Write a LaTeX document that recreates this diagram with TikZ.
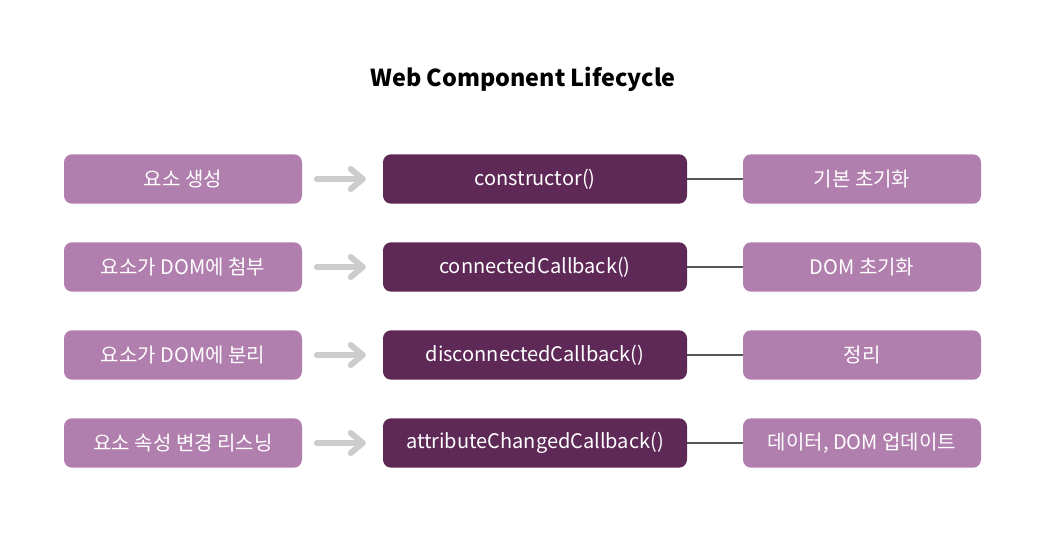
\documentclass[tikz,border=0pt]{standalone}
\usepackage{fontspec}
\setmainfont{Noto Sans CJK KR}
\definecolor{evtfill}{HTML}{B07FAE}
\definecolor{cbfill}{HTML}{5E2857}
\definecolor{arrowgray}{HTML}{CCCCCC}
\definecolor{linkgray}{HTML}{555555}
\begin{document}
\begin{tikzpicture}[x=0.75pt, y=-0.75pt,
  evt node/.style={rectangle, rounded corners=6pt, fill=evtfill, text=white, minimum width=178.5pt, minimum height=37pt, inner sep=0pt, font=\fontsize{15}{18}\selectfont},
  cb node/.style={rectangle, rounded corners=6pt, fill=cbfill, text=white, minimum width=228pt, minimum height=37pt, inner sep=0pt, font=\fontsize{15}{18}\selectfont},
  res node/.style={evt node},
  go arrow/.style={draw=arrowgray, line width=4.5pt, line cap=round, line join=round},
  link/.style={draw=linkgray, line width=1.5pt}]
\useasboundingbox (0,0) rectangle (1046,544);
\node[font=\fontsize{17.5}{21}\selectfont\bfseries] (title) at (523,79) {Web Component Lifecycle};
\begin{scope}
\node[evt node] (e1) at (183,179) {요소 생성};
\node[evt node] (e2) at (183,267) {요소가 DOM에 첨부};
\node[evt node] (e3) at (183,355) {요소가 DOM에 분리};
\node[evt node] (e4) at (183,443) {요소 속성 변경 리스닝};
\node[cb node] (c1) at (535,179) {constructor()};
\node[cb node] (c2) at (535,267) {connectedCallback()};
\node[cb node] (c3) at (535,355) {disconnectedCallback()};
\node[cb node] (c4) at (535,443) {attributeChangedCallback()};
\node[res node] (r1) at (862,179) {기본 초기화};
\node[res node] (r2) at (862,267) {DOM 초기화};
\node[res node] (r3) at (862,355) {정리};
\node[res node] (r4) at (862,443) {데이터, DOM 업데이트};
\end{scope}
\begin{scope}
\foreach \i in {1,...,4}{
  \coordinate (a\i) at ([xshift=11pt]e\i.east);
  \coordinate (b\i) at ([xshift=-15pt]c\i.west);
  \draw[go arrow] (a\i) -- (b\i);
  \draw[go arrow] ([xshift=-9pt,yshift=7.5pt]b\i) -- (b\i) -- ([xshift=-9pt,yshift=-7.5pt]b\i);
  \draw[link] (c\i) -- (r\i);
}
\end{scope}
\end{tikzpicture}
\end{document}
